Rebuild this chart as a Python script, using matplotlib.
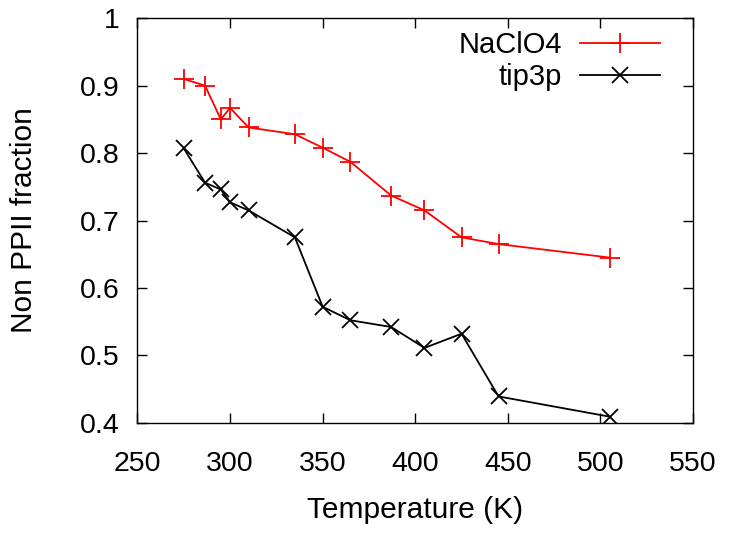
import matplotlib
matplotlib.use("Agg")
import matplotlib.pyplot as plt
from matplotlib.ticker import FuncFormatter

plt.rcParams['font.family'] = ['Liberation Sans', 'DejaVu Sans']

temps = [275, 286.5, 295, 300, 310, 335, 350, 365, 387, 405, 425, 445, 505]
naclo4 = [0.91, 0.90, 0.85, 0.867, 0.838, 0.828, 0.808, 0.787, 0.737, 0.715, 0.675, 0.665, 0.645]
tip3p = [0.807, 0.756, 0.746, 0.727, 0.715, 0.675, 0.572, 0.552, 0.542, 0.511, 0.532, 0.439, 0.409]

xticks = [250, 300, 350, 400, 450, 500, 550]
yticks = [0.4, 0.5, 0.6, 0.7, 0.8, 0.9, 1.0]

fig = plt.figure(figsize=(7.29, 5.33), dpi=100)
ax = fig.add_axes([0.1886, 0.2069, 0.762, 0.7588])

ax.plot(temps, naclo4, color='red', lw=1.3, marker='+', ms=15, mew=1.3, label='NaClO4')
ax.plot(temps, tip3p, color='black', lw=1.3, marker='x', ms=11, mew=1.3, label='tip3p')

ax.set_xlim(250, 550)
ax.set_ylim(0.4, 1.0)
ax.set_xticks(xticks)
ax.set_yticks(yticks)
ax.yaxis.set_major_formatter(FuncFormatter(lambda v, p: '%g' % v))
ax.tick_params(direction='in', length=7, width=1, top=True, right=True, labelsize=20.5)
ax.tick_params(axis='x', pad=20)
ax.tick_params(axis='y', pad=13)
for s in ax.spines.values():
    s.set_linewidth(1)

ax.set_xlabel('Temperature (K)', fontsize=21.5, labelpad=14)
ax.set_ylabel('Non PPII fraction', fontsize=21.5, labelpad=30)

ax.legend(loc='upper right', bbox_to_anchor=(0.9406, 0.968), frameon=False,
          markerfirst=False, fontsize=21, handlelength=2.75, handletextpad=0.62,
          labelspacing=0.13, borderpad=0, borderaxespad=0)

plt.savefig('out.png', dpi=100)
